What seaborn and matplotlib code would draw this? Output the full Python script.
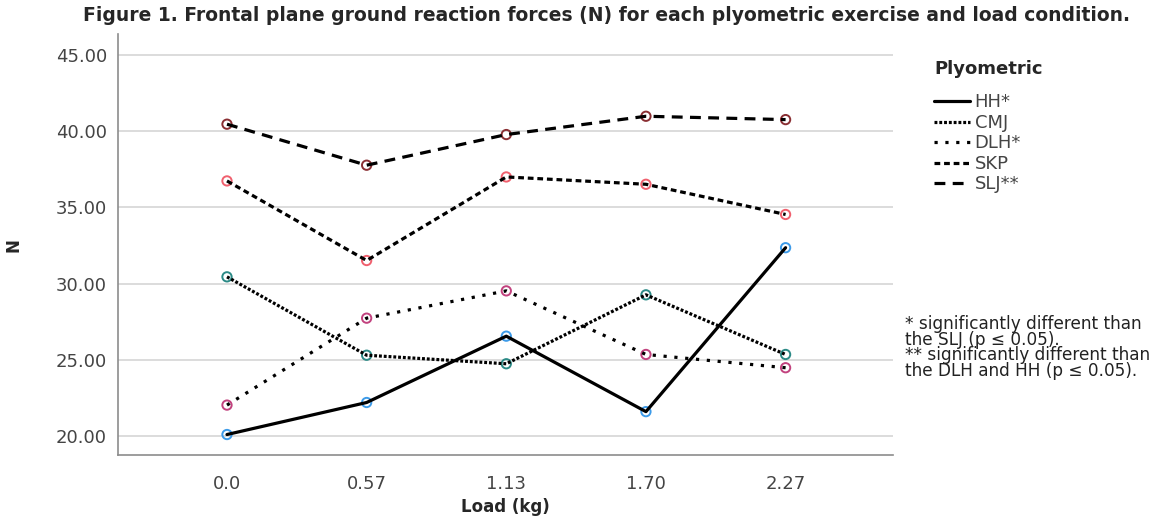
import matplotlib
matplotlib.use("Agg")
import matplotlib.pyplot as plt
import seaborn as sns
import pandas as pd

loads = ["0.0", "0.57", "1.13", "1.70", "2.27"]
series_names = ["HH*", "CMJ", "DLH*", "SKP", "SLJ**"]
hh = [20.1, 22.2, 26.55, 21.6, 32.35]
cmj = [30.44, 25.3, 24.74, 29.26, 25.35]
dlh = [22.03, 27.73, 29.52, 25.35, 24.48]
skp = [36.73, 31.51, 36.99, 36.51, 34.53]
slj = [40.45, 37.76, 39.77, 40.97, 40.75]
yticks = [20, 25, 30, 35, 40, 45]

values = [hh, cmj, dlh, skp, slj]
rows = []
for name, vals in zip(series_names, values):
    for ld, v in zip(loads, vals):
        rows.append({"Load": ld, "N": v, "Plyometric": name})
df = pd.DataFrame(rows)

sns.set_theme(style="white")
plt.rcParams["font.family"] = ["DejaVu Sans"]

palette = {"HH*": "#3d9be9", "CMJ": "#2b8a86", "DLH*": "#c2427e",
           "SKP": "#f0606e", "SLJ**": "#8a2f33"}
dashes = {"HH*": "", "CMJ": (0.9, 0.6), "DLH*": (1, 2.4),
          "SKP": (1.8, 1.2), "SLJ**": (3.4, 2.3)}

fig = plt.figure(figsize=(11.69, 5.16), dpi=100)
ax = fig.add_axes([0.101, 0.118, 0.663, 0.816])

sns.lineplot(data=df, x="Load", y="N", style="Plyometric", dashes=dashes,
             color="black", linewidth=2.3, ax=ax, legend="full",
             style_order=series_names, zorder=3)
handles, labels = ax.get_legend_handles_labels()

sns.scatterplot(data=df, x="Load", y="N", hue="Plyometric", palette=palette,
                hue_order=series_names, s=45, marker="o", linewidth=1.4,
                ax=ax, legend=False, zorder=2)
for coll in ax.collections:
    coll.set_edgecolors(coll.get_facecolors())
    coll.set_facecolors("none")

ax.set_xlim(-0.78, 4.77)
ax.set_ylim(18.75, 46.36)
ax.set_yticks(yticks)
ax.set_yticklabels([f"{t:.2f}" for t in yticks])
ax.yaxis.grid(True, color="#d2d2d2", linewidth=1.1)
ax.set_axisbelow(True)
for s in ["top", "right"]:
    ax.spines[s].set_visible(False)
for s in ["left", "bottom"]:
    ax.spines[s].set_color("#8c8c8c")
    ax.spines[s].set_linewidth(1.2)
ax.tick_params(axis="y", length=0, labelsize=13, colors="#444444", pad=8)
ax.tick_params(axis="x", length=0, labelsize=13, colors="#444444", pad=14)
ax.set_xlabel("Load (kg)", fontsize=12, fontweight="bold", labelpad=4)
ax.set_ylabel("N", fontsize=12, fontweight="bold", labelpad=24)

leg = ax.legend(handles, labels, title="Plyometric", loc="upper left",
                bbox_to_anchor=(0.785, 0.915), bbox_transform=fig.transFigure,
                frameon=False, fontsize=13, title_fontsize=13,
                handlelength=2.0, handletextpad=0.25, labelspacing=0.14,
                alignment="left")
leg.get_title().set_fontweight("bold")
leg._legend_box.sep = 11
for t in leg.get_texts():
    t.set_color("#444444")

fig.text(0.774, 0.39,
         "* significantly different than\nthe SLJ (p \u2264 0.05).\n** significantly different than\nthe DLH and HH (p \u2264 0.05).",
         fontsize=12.2, color="#222222", va="top", ha="left", linespacing=0.84)

fig.suptitle("Figure 1. Frontal plane ground reaction forces (N) for each plyometric exercise and load condition.",
             x=0.519, y=0.988, fontsize=13.5, fontweight="bold", va="top")

fig.savefig("out.png", dpi=100)
